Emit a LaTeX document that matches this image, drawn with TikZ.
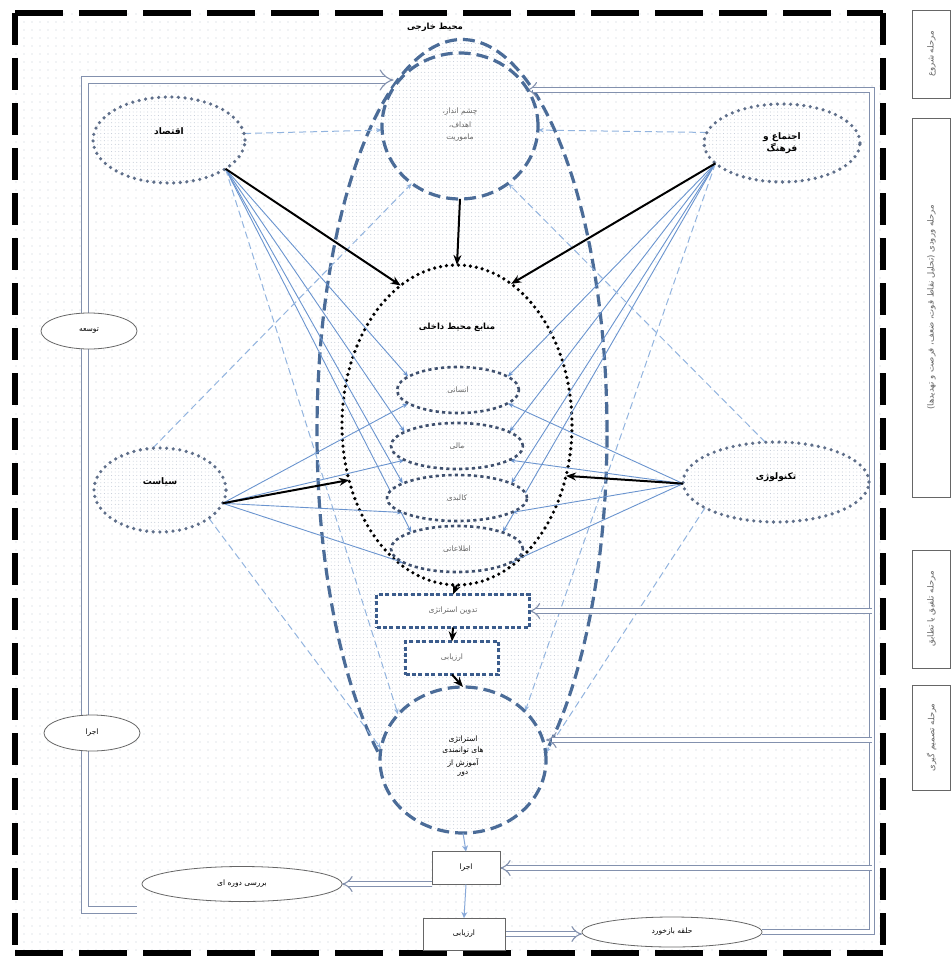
\documentclass[tikz,border=0pt]{standalone}
\usepackage{fontspec}
\newfontfamily\fa[Script=Arabic]{DejaVu Sans}
\TeXXeTstate=1
\usetikzlibrary{shapes.geometric,patterns.meta,arrows.meta,calc}
\newcommand{\fr}[1]{{\fa\beginR #1\endR}}
\definecolor{bordblue}{HTML}{4B6C98}
\definecolor{dotgray}{HTML}{5F6F8A}
\definecolor{subblue}{HTML}{3F506E}
\definecolor{boxblue}{HTML}{3B5C8C}
\definecolor{linkblue}{HTML}{6A94CF}
\definecolor{dashblue}{HTML}{92B4DF}
\definecolor{dblgray}{HTML}{8391AE}
\definecolor{bgdot}{HTML}{C5CCD8}
\definecolor{indot}{HTML}{B5BECD}
\definecolor{txtgray}{HTML}{666666}
\pgfdeclarelayer{back}
\pgfdeclarelayer{mid}
\pgfsetlayers{back,mid,main}
\begin{document}
\begin{tikzpicture}[x=1pt,y=-1pt,
  every node/.style={inner sep=0pt,outer sep=0pt},
  dotfill/.style={preaction={fill=white},pattern={Dots[distance=3.6pt,radius=0.45pt]},pattern color=indot},
  factor/.style={ellipse,draw=dotgray,line width=3.6pt,dash pattern=on 0pt off 6.6pt,line cap=round,dotfill,
    font=\fontsize{9}{12}\selectfont\bfseries,align=center},
  bigdash/.style={ellipse,draw=bordblue,line width=3.2pt,dash pattern=on 12pt off 6pt,dotfill,
    font=\fontsize{7.5}{11}\selectfont,align=center},
  innerell/.style={ellipse,draw=black,line width=3.6pt,dash pattern=on 0pt off 6pt,line cap=round,dotfill},
  subell/.style={ellipse,draw=subblue,line width=2.6pt,dash pattern=on 3.2pt off 3.2pt,dotfill,
    minimum height=46pt,font=\fontsize{7.5}{9}\selectfont,text=txtgray},
  dashbox/.style={rectangle,draw=boxblue,line width=3.6pt,dash pattern=on 4pt off 2.4pt,fill=white,
    font=\fontsize{7.5}{9}\selectfont,text=txtgray},
  plainbox/.style={rectangle,draw=txtgray,line width=0.8pt,fill=white,font=\fontsize{7.5}{9}\selectfont},
  plainell/.style={ellipse,draw=txtgray,line width=0.8pt,fill=white,font=\fontsize{7.5}{9}\selectfont},
  stagebox/.style={rectangle,draw=txtgray,line width=0.9pt,fill=white,rotate=90,minimum height=38pt,
    font=\fontsize{8.5}{10}\selectfont,text=txtgray},
  blink/.style={draw=linkblue,line width=0.9pt,-{Stealth[length=6pt,width=4.5pt]}},
  dlink/.style={draw=dashblue,line width=1pt,dash pattern=on 7pt off 4pt,-{Stealth[length=6pt,width=4.5pt]}},
  blk/.style={draw=black,line width=2pt,-{Stealth[length=10pt,width=8pt]}},
  smallarr/.style={draw=linkblue!80,line width=1pt,-{Stealth[length=6pt,width=6pt,open]}},
  dbl/.style={draw=dblgray,line width=1.1pt,double=white,double distance=4.5pt,line join=miter,-{Implies[]}},
]
% ---------- background ----------
\begin{pgfonlayer}{back}
  \fill[white] (0,0) rectangle (952,958);
  \fill[pattern={Dots[distance=8pt,radius=0.6pt]},pattern color=bgdot] (15,13) rectangle (883,953);
  \node[bigdash,minimum width=290pt,minimum height=785pt] (bigE) at (462,432) {};
  \node[innerell,minimum width=230pt,minimum height=320pt] (innerE) at (457,425) {};
  \node[font=\fontsize{8.5}{10}\selectfont\bfseries] (innerT) at (457,327) {\fr{منابع محیط داخلی}};
\end{pgfonlayer}
% outer dashed frame
\draw[line width=6pt,dash pattern=on 48pt off 16pt] (15,13) -- (883,13);
\draw[line width=6pt,dash pattern=on 48pt off 16pt] (15,953) -- (883,953);
\draw[line width=6pt,dash pattern=on 32pt off 13pt] (15,13) -- (15,953);
\draw[line width=6pt,dash pattern=on 32pt off 13pt] (883,13) -- (883,953);
\node[font=\fontsize{8.5}{10}\selectfont\bfseries] (title) at (435,27) {\fr{محیط خارجی}};

% ---------- nodes ----------
\node[bigdash,minimum width=156pt,minimum height=146pt,text=txtgray] (vision) at (460,126)
  {\raisebox{5pt}{\shortstack{\fr{چشم انداز،}\\[3pt]\fr{اهداف،}\\[3pt]\fr{ماموریت}}}};
\node[factor,minimum width=152pt,minimum height=86pt] (econ) at (169,140) {\raisebox{17pt}{\fr{اقتصاد}}};
\node[factor,minimum width=156pt,minimum height=78pt] (soc) at (782,143) {\fr{اجتماع و}\\\fr{فرهنگ}};
\node[factor,minimum width=132pt,minimum height=84pt] (pol) at (160,490) {\raisebox{17pt}{\fr{سیاست}}};
\node[factor,minimum width=186pt,minimum height=80pt] (tech) at (776,482) {\raisebox{12pt}{\fr{تکنولوژی}}};

\node[subell,minimum width=122pt] (hum) at (458,390) {\fr{انسانی}};
\node[subell,minimum width=132pt] (fin) at (457,446) {\fr{مالی}};
\node[subell,minimum width=140pt] (phy) at (457,498) {\fr{کالبدی}};
\node[subell,minimum width=132pt] (inf) at (457,549) {\fr{اطلاعاتی}};

\node[dashbox,minimum width=153pt,minimum height=33pt] (plan) at (453,611) {\fr{تدوین استراتژی}};
\node[dashbox,minimum width=93pt,minimum height=33pt] (eval1) at (452,658) {\fr{ارزیابی}};
\node[bigdash,minimum width=166pt,minimum height=146pt,text=black] (strat) at (463,760)
  {\raisebox{10pt}{\shortstack{\fr{استراتژی}\\[1pt]\fr{های توانمندی}\\[1pt]\fr{آموزش از}\\[1pt]\fr{دور}}}};

\node[plainbox,minimum width=68pt,minimum height=33pt] (exec) at (466,868) {\fr{اجرا}};
\node[plainbox,minimum width=82pt,minimum height=32pt] (eval2) at (464,934) {\fr{ارزیابی}};
\node[plainell,minimum width=200pt,minimum height=35pt] (review) at (242,884) {\fr{بررسی دوره ای}};
\node[plainell,minimum width=180pt,minimum height=30pt] (feedback) at (672,932) {\fr{حلقه بازخورد}};
\node[plainell,minimum width=96pt,minimum height=36pt] (dev) at (89,331) {\fr{توسعه}};
\node[plainell,minimum width=96pt,minimum height=36pt] (exec2) at (92,733) {\fr{اجرا}};

\node[stagebox,minimum width=88pt] (s1) at (931.5,54) {\fr{مرحله شروع}};
\node[stagebox,minimum width=379pt] (s2) at (931.5,307.5) {\fr{مرحله ورودی (تحلیل نقاط قوت، ضعف، فرصت و تهدیدها)}};
\node[stagebox,minimum width=118pt] (s3) at (931.5,609) {\fr{مرحله تلفیق یا تطابق}};
\node[stagebox,minimum width=105pt] (s4) at (931.5,737.5) {\fr{مرحله تصمیم گیری}};

% hubs and corner points
\coordinate (econhub) at (econ.-27);
\coordinate (sochub) at (soc.197);
\coordinate (polhub) at (pol.-12);
\coordinate (techhub) at (tech.181);
\coordinate (lfree) at (137,910);
\coordinate (lbot) at (85,910);
\coordinate (ltop) at (85,80);
\coordinate (rbot) at (872,932);
\coordinate (rtop) at (872,90);
\coordinate (r1) at (872,611);
\coordinate (r2) at (872,740);
\coordinate (r3) at (872,868);

% ---------- thin connectors (under the nodes) ----------
\begin{pgfonlayer}{mid}
  \foreach \t/\a in {hum/165,fin/165,phy/165,inf/160} {\draw[blink] (econhub) -- (\t.\a);}
  \foreach \t/\a in {hum/195,fin/195,phy/195,inf/195} {\draw[blink] (polhub) -- (\t.\a);}
  \foreach \t/\a in {hum/15,fin/15,phy/15,inf/20} {\draw[blink] (sochub) -- (\t.\a);}
  \foreach \t/\a in {hum/-15,fin/-15,phy/-15,inf/-15} {\draw[blink] (techhub) -- (\t.\a);}
  \draw[dlink] (econ.5) -- (vision.183);
  \draw[dlink] (soc.172) -- (vision.-3);
  \draw[dlink] (pol.100) -- (vision.230);
  \draw[dlink] (tech.105) -- (vision.-50);
  \draw[dlink] (econhub) -- (strat.145);
  \draw[dlink] (pol.-30) -- (strat.172);
  \draw[dlink] (sochub) -- (strat.38);
  \draw[dlink] (tech.200) -- (strat.5);
  % hollow block arrows
  \draw[dbl,double distance=6.5pt] (lfree) -- (lbot) -- (ltop) -- (ltop -| vision.150);
  \draw[dbl] (feedback.east) -- (rbot) -- (rtop) -- (rtop -| vision.30);
  \draw[dbl] (r1) -- (r1 -| plan.east);
  \draw[dbl] (r2) -- (r2 -| strat.east);
  \draw[dbl] (r3) -- (r3 -| exec.east);
  \draw[dbl] (exec.west |- review.east) -- (review.east);
  \draw[dbl] (eval2.east) -- (eval2.east -| feedback.west);
\end{pgfonlayer}

% ---------- thick arrows ----------
\draw[blk] (vision.south) -- (innerE.north);
\draw[blk] (econhub) -- (innerE.112);
\draw[blk] (sochub) -- (innerE.69);
\draw[blk] (polhub) -- (innerE.207);
\draw[blk] (techhub) -- (innerE.-25);
\draw[blk] (innerE.south) -- (plan.north);
\draw[blk] (plan.south) -- (eval1.north);
\draw[blk] (eval1.south) -- (strat.north);
\draw[smallarr] (strat.south) -- (exec.north);
\draw[smallarr] (exec.south) -- (eval2.north);
\end{tikzpicture}
\end{document}
